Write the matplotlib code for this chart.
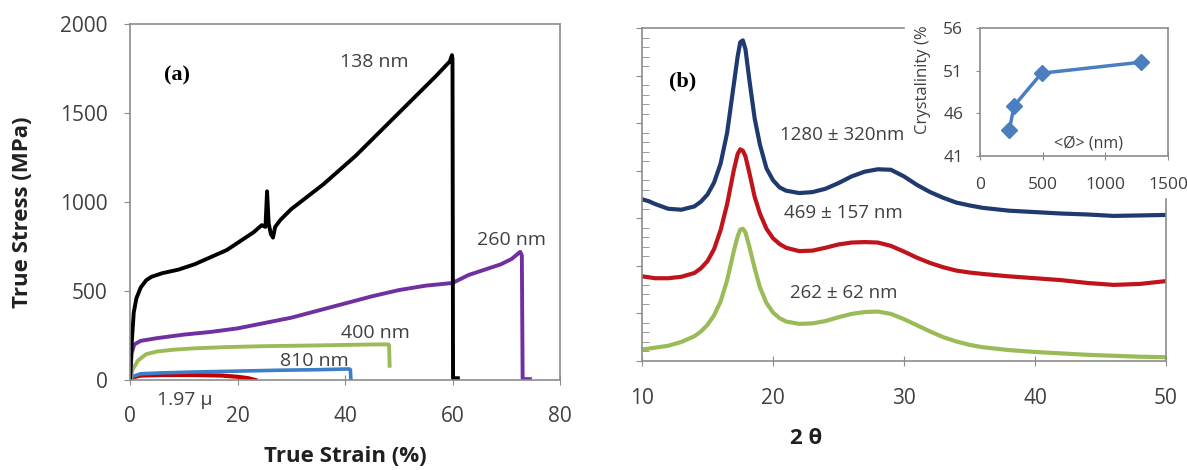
import matplotlib.pyplot as plt
from matplotlib.ticker import MultipleLocator

plt.rcParams['font.family'] = ['Open Sans', 'DejaVu Sans']

# (a) true stress-strain curves
strain_138 = [0, 0.3, 0.7, 1.2, 2, 3, 4, 6, 9, 12, 15, 18, 21, 23, 24.5, 25.2, 25.5,
              25.8, 26.2, 26.6, 27, 28, 30, 33, 36, 39, 42, 45, 48, 51, 54, 57,
              59.5, 59.9, 60.0, 60.1, 61.0]
stress_138 = [0, 200, 380, 460, 520, 560, 580, 600, 620, 650, 690, 730, 790, 830, 870,
              860, 1060, 880, 820, 800, 860, 900, 960, 1030, 1100, 1180, 1260, 1350,
              1440, 1530, 1620, 1710, 1790, 1825, 1800, 10, 10]
strain_260 = [0, 0.3, 0.8, 2, 5, 10, 15, 20, 25, 30, 35, 40, 45, 50, 55, 60, 63, 66,
              69, 71, 72.6, 72.9, 73.05, 74.4]
stress_260 = [0, 150, 200, 220, 235, 255, 270, 290, 320, 350, 390, 430, 470, 505, 530,
              545, 590, 620, 650, 680, 720, 700, 5, 5]
strain_400 = [0, 0.5, 1.5, 3, 5, 8, 12, 18, 25, 32, 40, 46, 48.1, 48.2, 48.3]
stress_400 = [0, 60, 110, 145, 160, 170, 178, 185, 190, 193, 197, 200, 200, 195, 80]
strain_810 = [0, 0.5, 2, 6, 12, 20, 28, 35, 40.8, 41.0, 41.1]
stress_810 = [0, 20, 35, 40, 45, 50, 55, 58, 62, 58, 0]
strain_197 = [0, 0.5, 2, 6, 12, 17, 20, 22, 23.3]
stress_197 = [0, 15, 25, 28, 28, 25, 18, 10, 0]

# (b) XRD patterns
two_theta = [10, 10.5, 11, 12, 13, 14, 14.5, 15, 15.5, 16, 16.5, 17, 17.3, 17.5, 17.7,
             17.9, 18.2, 18.6, 19, 19.5, 20, 20.5, 21, 22, 23, 24, 25, 26, 27, 28, 29,
             30, 31, 32, 33, 34, 35, 36, 38, 40, 42, 44, 46, 48, 50]
xrd_1280 = [3.40, 3.36, 3.30, 3.20, 3.18, 3.25, 3.35, 3.50, 3.75, 4.15, 4.80, 5.80,
            6.40, 6.70, 6.74, 6.55, 5.90, 5.10, 4.55, 4.05, 3.80, 3.65, 3.58, 3.53,
            3.55, 3.62, 3.74, 3.88, 3.98, 4.03, 4.02, 3.88, 3.70, 3.55, 3.43, 3.33,
            3.27, 3.22, 3.16, 3.13, 3.10, 3.08, 3.05, 3.06, 3.07]
xrd_469 = [1.78, 1.76, 1.74, 1.74, 1.77, 1.85, 1.95, 2.10, 2.35, 2.75, 3.30, 4.00,
           4.35, 4.45, 4.42, 4.30, 3.95, 3.45, 3.10, 2.78, 2.58, 2.46, 2.38, 2.31,
           2.32, 2.38, 2.45, 2.49, 2.50, 2.49, 2.42, 2.30, 2.17, 2.06, 1.97, 1.90,
           1.86, 1.83, 1.78, 1.74, 1.70, 1.64, 1.60, 1.62, 1.68]
xrd_262 = [0.24, 0.26, 0.28, 0.32, 0.40, 0.52, 0.62, 0.76, 0.96, 1.25, 1.70, 2.30,
           2.62, 2.76, 2.78, 2.70, 2.40, 1.95, 1.55, 1.22, 1.02, 0.90, 0.83, 0.78,
           0.79, 0.84, 0.92, 0.99, 1.03, 1.04, 0.99, 0.88, 0.75, 0.62, 0.50, 0.41,
           0.34, 0.29, 0.23, 0.19, 0.16, 0.13, 0.11, 0.09, 0.08]

# inset: crystallinity vs diameter
diameter = [234, 273, 491, 1288]
crystallinity = [44.1, 46.9, 50.7, 52.0]
inset_yticks = [41, 46, 51, 56]

gray = '#8c8c8c'
txt = '#404040'

fig = plt.figure(figsize=(11.87, 4.70), dpi=100)

# ---- panel (a)
ax = fig.add_axes([130 / 1187, 1 - 380 / 470, 430 / 1187, 356 / 470])
ax.plot(strain_197, stress_197, color='#c00000', lw=3)
ax.plot(strain_810, stress_810, color='#3c7fc8', lw=2.6)
ax.plot(strain_400, stress_400, color='#9bbb59', lw=2.8)
ax.plot(strain_260, stress_260, color='#7030a0', lw=2.8)
ax.plot(strain_138, stress_138, color='black', lw=2.8)
ax.set_xlim(0, 80)
ax.set_ylim(0, 2000)
ax.xaxis.set_major_locator(MultipleLocator(20))
ax.yaxis.set_major_locator(MultipleLocator(500))
for s in ax.spines.values():
    s.set_color(gray)
    s.set_linewidth(1.2)
ax.tick_params(axis='x', direction='inout', length=7, color=gray, labelsize=15,
               labelcolor=txt, pad=15)
ax.tick_params(axis='y', direction='out', length=4, color=gray, labelsize=15,
               labelcolor=txt, pad=12)
ax.set_xlabel('True Strain (%)', fontsize=16, fontweight='bold', color='#202020')
ax.xaxis.set_label_coords(0.5, -0.185)
ax.set_ylabel('True Stress (MPa)', fontsize=16, fontweight='bold', color='#202020')
ax.yaxis.set_label_coords(-0.225, 0.47)

ax.text(45.4, 1788, '138 nm', fontsize=14, color=txt, ha='center', va='center')
ax.text(71, 786, '260 nm', fontsize=14, color=txt, ha='center', va='center')
ax.text(45.6, 264, '400 nm', fontsize=14, color=txt, ha='center', va='center')
ax.text(34.3, 105, '810 nm', fontsize=14, color=txt, ha='center', va='center')
ax.text(10.1, -112, '1.97 µ', fontsize=14, color=txt, ha='center', va='center',
        clip_on=False)
ax.text(8.7, 1713, '(a)', fontsize=16, fontweight='bold', ha='center', va='center',
        family='Liberation Serif')

# ---- panel (b)
bx = fig.add_axes([642 / 1187, 1 - 361 / 470, 524 / 1187, 333 / 470])
bx.plot(two_theta, xrd_262, color='#9bbb59', lw=3)
bx.plot(two_theta, xrd_469, color='#c0141c', lw=3)
bx.plot(two_theta, xrd_1280, color='#1f3a6e', lw=3)
bx.set_xlim(10, 50)
bx.set_ylim(0, 7)
bx.xaxis.set_major_locator(MultipleLocator(10))
bx.yaxis.set_major_locator(MultipleLocator(1))
bx.yaxis.set_minor_locator(MultipleLocator(0.2))
bx.set_yticklabels([])
for s in bx.spines.values():
    s.set_color(gray)
    s.set_linewidth(1.2)
bx.spines['top'].set_bounds(10, 30)
bx.spines['right'].set_bounds(0, 3.4)
bx.tick_params(axis='x', direction='inout', length=7, color=gray, labelsize=15,
               labelcolor=txt, pad=16)
bx.tick_params(axis='y', which='major', direction='out', length=4, color=gray)
bx.tick_params(axis='y', which='minor', direction='in', length=5, color=gray)
bx.set_xlabel('2 θ', fontsize=16, fontweight='bold', color='#202020')
bx.xaxis.set_label_coords(0.313, -0.2)

bx.text(25.3, 4.75, '1280 ± 320nm', fontsize=13.5, color=txt, ha='center', va='center')
bx.text(25.4, 3.11, '469 ± 157 nm', fontsize=13.5, color=txt, ha='center', va='center')
bx.text(25.4, 1.42, '262 ± 62 nm', fontsize=13.5, color=txt, ha='center', va='center')
bx.text(13.1, 5.87, '(b)', fontsize=16, fontweight='bold', ha='center', va='center',
        family='Liberation Serif')

# ---- inset
ix = fig.add_axes([980 / 1187, 1 - 156 / 470, 188 / 1187, 128 / 470])
ix.set_facecolor('white')
ix.plot(diameter, crystallinity, color='#4a7ebe', lw=2.5, marker='D', ms=8)
ix.set_xlim(0, 1500)
ix.set_ylim(41, 56)
ix.xaxis.set_major_locator(MultipleLocator(500))
ix.set_yticks(inset_yticks)
for s in ix.spines.values():
    s.set_color(gray)
    s.set_linewidth(1.2)
ix.tick_params(axis='x', direction='inout', length=6, color=gray, labelsize=12.5,
               labelcolor=txt, pad=12)
ix.tick_params(axis='y', direction='out', length=3, color=gray, labelsize=12.5,
               labelcolor=txt, pad=9)
ix.set_ylabel('Crystalinity (%', fontsize=12, color=txt)
ix.yaxis.set_label_coords(-0.26, 0.6)
ix.text(862, 42.5, '<Ø> (nm)', fontsize=11.5, color=txt, ha='center', va='center')

fig.savefig('out.png', dpi=100)
